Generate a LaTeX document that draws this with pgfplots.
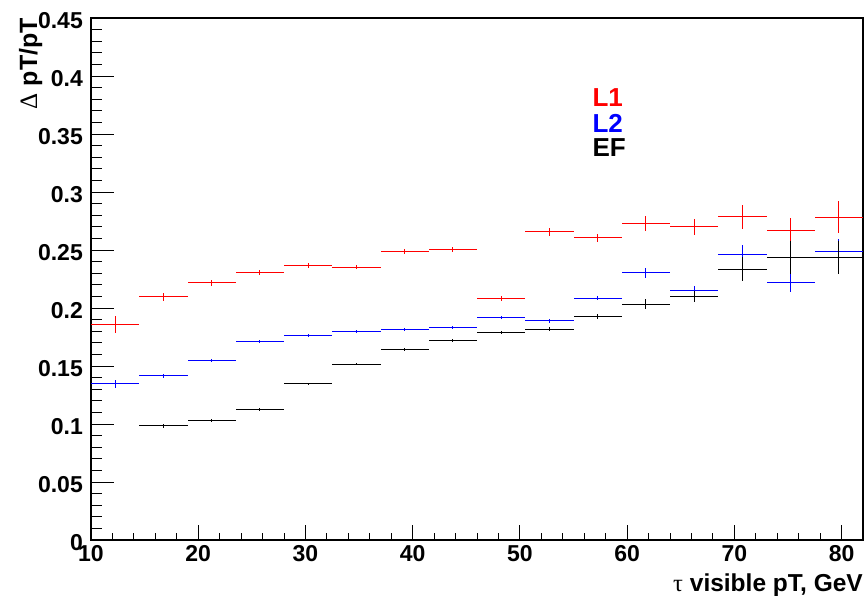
\documentclass[border=0pt]{standalone}
\usepackage{pgfplots}
\pgfplotsset{compat=1.18}
\usepackage{fontspec}
\setmainfont{Liberation Sans}
\newfontfamily\symfont{Liberation Serif}

\pgfplotstableread{
x y ey
12.25 0.1856 0.0075
16.75 0.2095 0.0032
21.25 0.2218 0.0026
25.75 0.2304 0.0022
30.25 0.2365 0.0020
34.75 0.2351 0.0018
39.25 0.2486 0.0021
43.75 0.2506 0.0024
48.25 0.2083 0.0020
52.75 0.2658 0.0035
57.25 0.2606 0.0035
61.75 0.2730 0.0065
66.25 0.2701 0.0070
70.75 0.2787 0.0103
75.25 0.2672 0.0108
79.75 0.2784 0.0135
}\tableLone

\pgfplotstableread{
x y ey
12.25 0.1345 0.0033
16.75 0.1414 0.0018
21.25 0.1549 0.0015
25.75 0.1713 0.0013
30.25 0.1761 0.0012
34.75 0.1796 0.0012
39.25 0.1813 0.0014
43.75 0.1830 0.0012
48.25 0.1920 0.0015
52.75 0.1891 0.0016
57.25 0.2086 0.0018
61.75 0.2302 0.0045
66.25 0.2152 0.0038
70.75 0.2457 0.0085
75.25 0.2216 0.0078
79.75 0.2483 0.0110
}\tableLtwo

\pgfplotstableread{
x y ey
16.75 0.0983 0.0020
21.25 0.1032 0.0015
25.75 0.1129 0.0013
30.25 0.1345 0.0012
34.75 0.1517 0.0012
39.25 0.1644 0.0012
43.75 0.1721 0.0012
48.25 0.1793 0.0013
52.75 0.1816 0.0018
57.25 0.1925 0.0020
61.75 0.2032 0.0043
66.25 0.2098 0.0050
70.75 0.2333 0.0103
75.25 0.2434 0.0144
79.75 0.2434 0.0140
}\tableEF

\begin{document}
\begin{tikzpicture}[x=1pt,y=1pt]
\useasboundingbox (0,0) rectangle (865,595);
\begin{axis}[
  at={(91pt,55pt)}, anchor=south west,
  width=772pt, height=522pt, scale only axis,
  xmin=10, xmax=82, ymin=0, ymax=0.45,
  xtick={10,20,30,40,50,60,70,80},
  ytick={0,0.05,0.1,0.15,0.2,0.25,0.3,0.35,0.4,0.45},
  minor x tick num=4, minor y tick num=4,
  tick align=inside, xtick pos=bottom, ytick pos=left,
  xtick style={/pgfplots/major tick length=15pt, line width=1pt, black},
  ytick style={/pgfplots/major tick length=23pt, line width=1pt, black},
  minor x tick style={/pgfplots/minor tick length=7.5pt, line width=1pt, black},
  minor y tick style={/pgfplots/minor tick length=11pt, line width=1pt, black},
  axis line style={line width=1.3pt},
  /pgf/number format/assume math mode=true,
  ticklabel style={font=\bfseries\fontsize{23}{23}\selectfont, inner sep=0pt},
  yticklabel style={/pgf/number format/fixed, /pgf/number format/precision=2, yshift=-3pt},
  xticklabel shift=5pt, yticklabel shift=8pt,
  xlabel={{\symfont\mdseries τ} visible pT, GeV},
  xlabel style={font=\bfseries\fontsize{24.5}{24.5}\selectfont, at={(axis description cs:1,0)}, anchor=base east, yshift=-51pt, inner sep=0pt},
  ylabel={{\symfont\mdseries Δ} pT/pT},
  ylabel style={font=\bfseries\fontsize{25}{25}\selectfont, at={(axis description cs:-0.0699,1)}, anchor=base east, inner sep=0pt},
  clip=false,
  errplot/.style={only marks, mark=text, text mark={}, mark options={draw=none, fill=none}},
]
\addplot[errplot, color=red, error bars/.cd, x dir=both, x fixed=2.25, y dir=both, y explicit, error bar style={line width=1pt, red}, error mark=none] table[x=x, y=y, y error=ey] {\tableLone};
\addplot[errplot, color=blue, error bars/.cd, x dir=both, x fixed=2.25, y dir=both, y explicit, error bar style={line width=1pt, blue}, error mark=none] table[x=x, y=y, y error=ey] {\tableLtwo};
\addplot[errplot, color=black, error bars/.cd, x dir=both, x fixed=2.25, y dir=both, y explicit, error bar style={line width=1pt, black}, error mark=none] table[x=x, y=y, y error=ey] {\tableEF};
\node[anchor=base west, text=red, font=\bfseries\fontsize{26}{26}\selectfont, inner sep=0pt] at (axis cs:56.76,0.3741) {L1};
\node[anchor=base west, text=blue, font=\bfseries\fontsize{26}{26}\selectfont, inner sep=0pt] at (axis cs:56.76,0.3517) {L2};
\node[anchor=base west, text=black, font=\bfseries\fontsize{26}{26}\selectfont, inner sep=0pt] at (axis cs:56.76,0.3305) {EF};
\end{axis}
\end{tikzpicture}
\end{document}
